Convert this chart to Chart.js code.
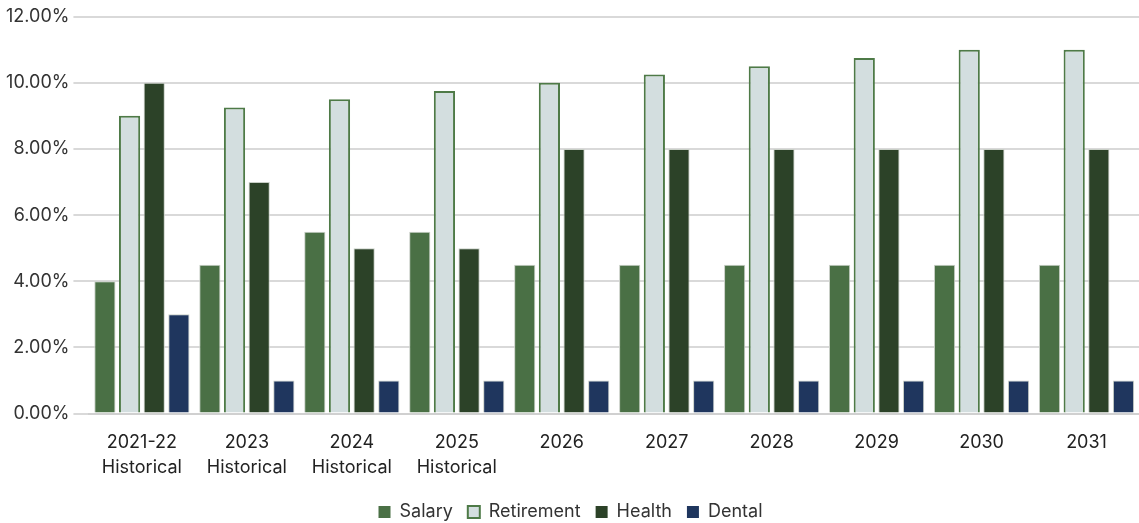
<!DOCTYPE html>
<html>
<head>
<meta charset="utf-8">
<script src="https://cdn.jsdelivr.net/npm/chart.js@4.4.0/dist/chart.umd.min.js"></script>
<style>
  html, body { margin: 0; padding: 0; background: #fff; }
  #wrap { width: 1139px; height: 523px; }
</style>
</head>
<body>
<div id="wrap"><canvas id="rates"></canvas></div>
<script>
var years = [['2021-22', 'Historical'], ['2023', 'Historical'], ['2024', 'Historical'], ['2025', 'Historical'],
    '2026', '2027', '2028', '2029', '2030', '2031'];
var salary = [4, 4.5, 5.5, 5.5, 4.5, 4.5, 4.5, 4.5, 4.5, 4.5];
var retirement = [9, 9.25, 9.5, 9.75, 10, 10.25, 10.5, 10.75, 11, 11];
var health = [10, 7, 5, 5, 8, 8, 8, 8, 8, 8];
var dental = [3, 1, 1, 1, 1, 1, 1, 1, 1, 1];

var font = { family: 'Inter, "Open Sans", sans-serif', size: 18, lineHeight: 1.4 };

var ctx = document.getElementById('rates');
var chart = new Chart(ctx, {
    type: 'bar',
    data: {
        labels: years,
        datasets: [{
            label: 'Salary',
            data: salary,
            backgroundColor: '#4a7045',
            borderColor: '#c9cfc7',
            borderWidth: 1
        }, {
            label: 'Retirement',
            data: retirement,
            backgroundColor: '#d3dedf',
            borderColor: '#4e7a47',
            borderWidth: 2
        }, {
            label: 'Health',
            data: health,
            backgroundColor: '#2c4228',
            borderColor: '#c9cfc7',
            borderWidth: 1
        }, {
            label: 'Dental',
            data: dental,
            backgroundColor: '#1f365e',
            borderColor: '#c9cfc7',
            borderWidth: 1
        }]
    },
    options: {
        responsive: true,
        maintainAspectRatio: false,
        animation: false,
        // negative padding pulls the top tick and the legend closer to the canvas edges
        layout: { padding: { top: -5, right: 0, left: 2, bottom: -8 } },
        datasets: {
            bar: { categoryPercentage: 0.94, barPercentage: 0.86 }
        },
        scales: {
            x: {
                grid: { display: false },
                border: { color: '#d0d0d0', width: 2 },
                ticks: { color: '#222', font: font, maxRotation: 0, autoSkip: false, padding: 8 }
            },
            y: {
                min: 0,
                max: 12,
                border: { display: false },
                grid: { color: '#d9d9d9', lineWidth: 2, tickLength: 16 },
                ticks: {
                    stepSize: 2,
                    color: '#333',
                    font: font,
                    padding: 4,
                    callback: function(v) { return v.toFixed(2) + '%'; }
                }
            }
        },
        plugins: {
            tooltip: { enabled: false },
            legend: {
                position: 'bottom',
                labels: {
                    color: '#333',
                    font: font,
                    boxWidth: 12,
                    boxHeight: 12,
                    padding: 15,
                    generateLabels: function(c) {
                        return c.data.datasets.map(function(ds, i) {
                            return {
                                text: ds.label,
                                fillStyle: ds.backgroundColor,
                                strokeStyle: i === 1 ? ds.borderColor : ds.backgroundColor,
                                lineWidth: i === 1 ? 2 : 0,
                                fontColor: '#333',
                                datasetIndex: i
                            };
                        });
                    }
                }
            }
        }
    }
});
</script>
</body>
</html>
